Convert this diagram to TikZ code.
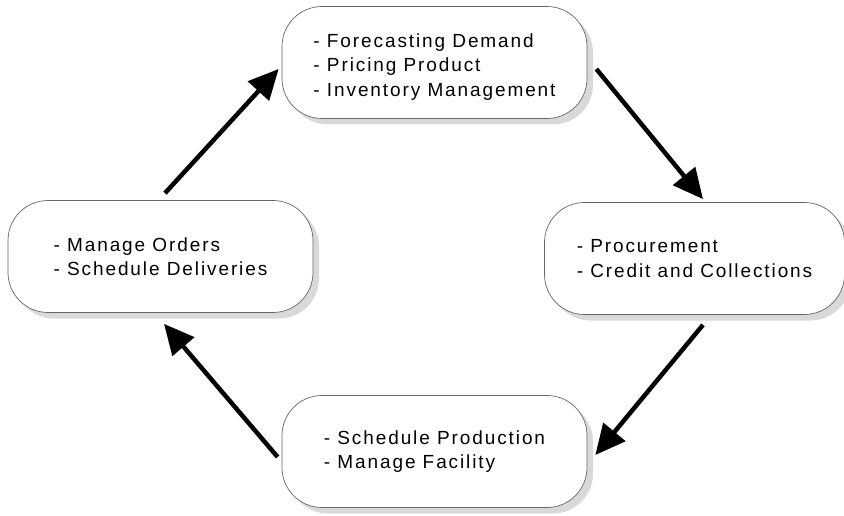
\documentclass[tikz,border=0pt]{standalone}
\usepackage{fontspec}
\setmainfont{Liberation Sans}[LetterSpace=10]
\usepackage{tikz}
\usetikzlibrary{positioning,shadows,arrows.meta}

\begin{document}
\begin{tikzpicture}[x=1pt, y=-1pt, -{Triangle[length=30pt,width=28pt]}, line width=4.5pt]
	\tikzstyle{task}=[draw=black!60, line width=0.7pt, fill=white, rounded corners=40pt,
	minimum width=305pt, minimum height=112pt, align=left,
	font=\fontsize{19}{24.5}\selectfont,
	drop shadow={shadow xshift=6pt, shadow yshift=-6pt, fill=black!15, opacity=1}]

	\useasboundingbox (0,0) rectangle (844,516);

	\begin{scope}
		\node[task] (plan) at (434.5,62.5) {\rule{0pt}{22pt}- Forecasting Demand\\- Pricing Product\\- Inventory Management};
		\node[task, minimum width=300pt] (buy) at (694.5,258.5) {- Procurement\\- Credit and Collections};
		\node[task] (make) at (434.5,451.5) {- Schedule Production\\- Manage Facility};
		\node[task] (ship) at (160.5,256.5) {- Manage Orders\\- Schedule Deliveries};

		\draw ([shift={(9,6.5)}]plan.east) -- ([shift={(8.5,-3)}]buy.north);
		\draw ([shift={(8.5,10)}]buy.south) -- ([shift={(8,3.5)}]make.east);
		\draw ([shift={(-4,5.5)}]make.west) -- ([shift={(3.5,11)}]ship.south);
		\draw ([shift={(4.5,-7)}]ship.north) -- ([shift={(-3,6.5)}]plan.west);
	\end{scope}
\end{tikzpicture}
\end{document}
